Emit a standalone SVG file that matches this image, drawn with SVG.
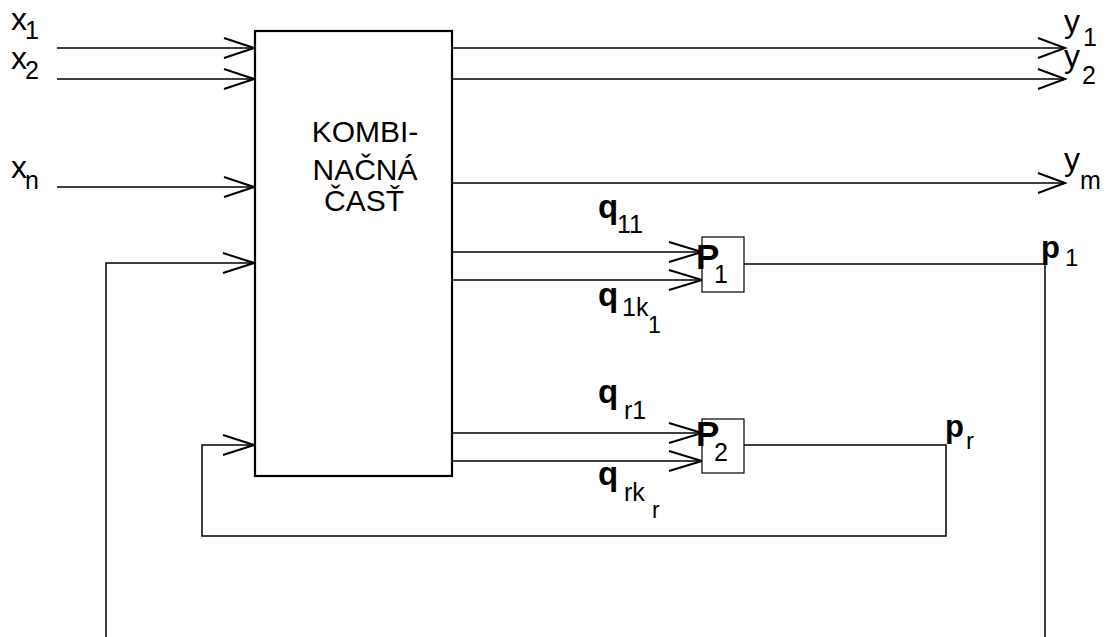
<svg xmlns="http://www.w3.org/2000/svg" width="1111" height="637" viewBox="0 0 1111 637">
<style>
.ln{fill:none;stroke:#000;stroke-width:1.5}
.ar{fill:none;stroke:#000;stroke-width:2}
.bx{fill:#fff;stroke:#000;stroke-width:1.2}
.t{font-family:"Liberation Sans",Arial,sans-serif;fill:#000}
.b{font-weight:bold}
</style>
<rect width="1111" height="637" fill="#fff"/>
<g id="connectors">
<path class="ln" d="M57,48H254M57,79H254M57,187H254"/>
<path class="ar" d="M224,38L254,48L224,58M224,69L254,79L224,89M224,177L254,187L224,197"/>
<path class="ln" d="M452,48H1065M452,79H1065M452,183H1065"/>
<path class="ar" d="M1038,38L1065,48L1038,58M1038,69L1065,79L1038,89M1038,173L1065,183L1038,193"/>
<path class="ln" d="M452,252H702M452,280H702"/>
<path class="ar" d="M669,242L702,252L669,262M669,270L702,280L669,290"/>
<path class="ln" d="M452,433H702M452,461H702"/>
<path class="ar" d="M669,423L702,433L669,443M669,451L702,461L669,471"/>
<path class="ln" d="M744,264H1045V637M106,637V263H254"/>
<path class="ar" d="M223,253L254,263L223,273"/>
<path class="ln" d="M744,445H946V536H202V445H254"/>
<path class="ar" d="M223,435L254,445L223,455"/>
</g>
<g id="main">
<rect x="255" y="31" width="197" height="445" fill="#fff" stroke="#000" stroke-width="2.2"/>
<text class="t" font-size="30" text-anchor="middle"><tspan x="365" y="142">KOMBI-</tspan><tspan x="365" y="180">NAČNÁ</tspan><tspan x="364" y="211">ČASŤ</tspan></text>
</g>
<g id="P1">
<rect class="bx" x="702" y="237" width="42" height="55"/>
<text class="t b" font-size="35" x="696" y="269">P</text>
<text class="t" font-size="25" x="714" y="283">1</text>
</g>
<g id="P2">
<rect class="bx" x="702" y="419" width="42" height="54"/>
<text class="t b" font-size="35" x="696" y="446">P</text>
<text class="t" font-size="25" x="714" y="461">2</text>
</g>
<g id="labels">
<text class="t" font-size="32" x="11" y="30">x</text><text class="t" font-size="25" x="25" y="39">1</text>
<text class="t" font-size="32" x="11" y="69">x</text><text class="t" font-size="25" x="25" y="79">2</text>
<text class="t" font-size="32" x="11" y="178">x</text><text class="t" font-size="25" x="25" y="189">n</text>
<text class="t" font-size="32" x="1064" y="32">y</text><text class="t" font-size="25" x="1083" y="46">1</text>
<text class="t" font-size="32" x="1064" y="67">y</text><text class="t" font-size="25" x="1082" y="84">2</text>
<text class="t" font-size="32" x="1064" y="170">y</text><text class="t" font-size="25" x="1080" y="189">m</text>
<text class="t b" font-size="33" x="598" y="218">q</text><text class="t" font-size="25" x="617" y="233">11</text>
<text class="t b" font-size="33" x="598" y="306">q</text><text class="t" font-size="25" x="622" y="316">1k</text><text class="t" font-size="23" x="648" y="333">1</text>
<text class="t b" font-size="33" x="598" y="403">q</text><text class="t" font-size="25" x="624" y="419">r1</text>
<text class="t b" font-size="33" x="598" y="485">q</text><text class="t" font-size="25" x="624" y="501">rk</text><text class="t" font-size="23" x="652" y="518">r</text>
<text class="t b" font-size="31" x="1041" y="258">p</text><text class="t" font-size="24" x="1065" y="266">1</text>
<text class="t b" font-size="31" x="945" y="437">p</text><text class="t" font-size="24" x="966" y="449">r</text>
</g>
</svg>
